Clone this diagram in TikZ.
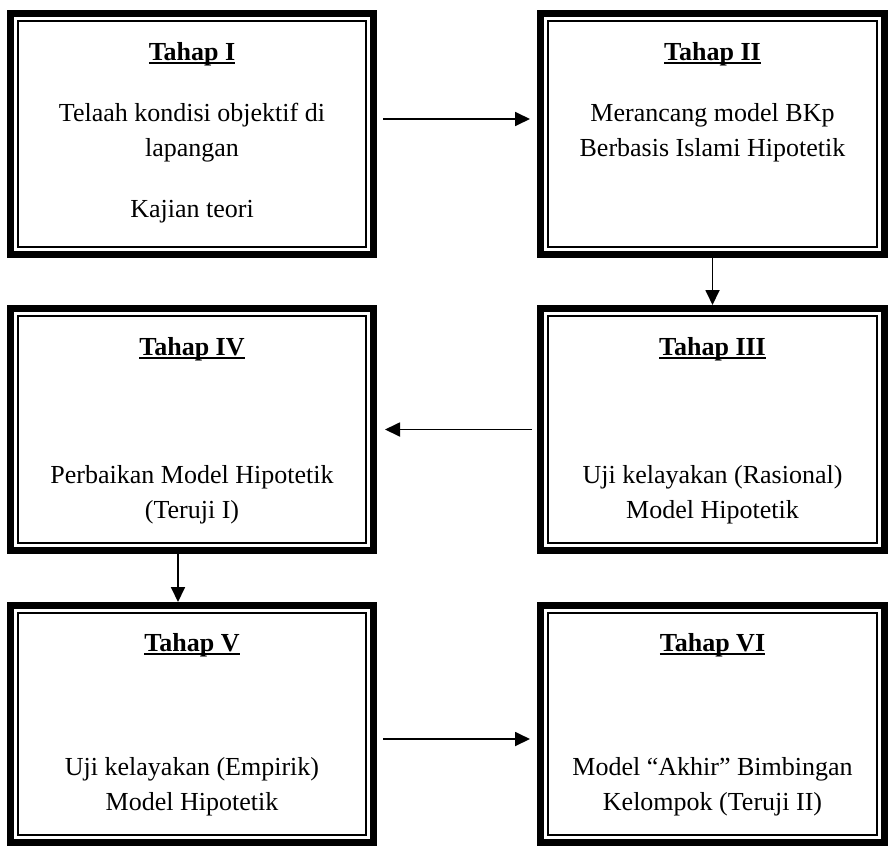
\documentclass[tikz,border=0pt]{standalone}
\usepackage{fontspec}
\setmainfont{Liberation Serif}
\usetikzlibrary{arrows.meta}
\newcommand{\garis}[1]{\setbox0\hbox{#1}\rlap{\rule[-4pt]{\wd0}{2pt}}\box0}

\begin{document}
\begin{tikzpicture}[x=1pt, y=-1pt,
        tahap/.style = {rectangle, draw=black, line width=7pt, inner sep=0pt,
            path picture={\draw[line width=1.5pt] ([shift={(7.5pt,-7.5pt)}]path picture bounding box.north west) rectangle ([shift={(-7.5pt,7.5pt)}]path picture bounding box.south east);}},
        kiri/.style  = {tahap, minimum width=363pt},
        kanan/.style = {tahap, minimum width=344pt},
        judul/.style = {anchor=base, inner sep=0pt, font=\fontsize{26}{35}\selectfont\bfseries},
        isi/.style   = {anchor=base, inner sep=0pt, align=center, font=\fontsize{26}{35}\selectfont},
        panah/.style = {-{Triangle[length=15pt,width=14pt]}, line width=1.8pt}
    ]
        \useasboundingbox (0,0) rectangle (888,846);

        % Boxes
        \node[kiri,  minimum height=241pt] (b1) at (192,134) {};
        \node[kanan, minimum height=241pt] (b2) at (712.5,134) {};
        \node[kanan, minimum height=242pt] (b3) at (712.5,429.5) {};
        \node[kiri,  minimum height=242pt] (b4) at (192,429.5) {};
        \node[kiri,  minimum height=237pt] (b5) at (192,724) {};
        \node[kanan, minimum height=237pt] (b6) at (712.5,724) {};

        % Titles
        \node[judul] (j1) at (192,60) {\garis{Tahap I}};
        \node[judul] (j2) at (712.5,60) {\garis{Tahap II}};
        \node[judul] (j3) at (712.5,355) {\garis{Tahap III}};
        \node[judul] (j4) at (192,355) {\garis{Tahap IV}};
        \node[judul] (j5) at (192,651) {\garis{Tahap V}};
        \node[judul] (j6) at (712.5,651) {\garis{Tahap VI}};

        % Contents (base = last line)
        \node[isi] (i1) at (192,156) {Telaah kondisi objektif di\\lapangan};
        \node[isi] (i1b) at (192,217) {Kajian teori};
        \node[isi] (i2) at (712.5,156) {Merancang model BKp\\Berbasis Islami Hipotetik};
        \node[isi] (i3) at (712.5,518) {Uji kelayakan (Rasional)\\Model Hipotetik};
        \node[isi] (i4) at (192,518) {Perbaikan Model Hipotetik\\(Teruji I)};
        \node[isi] (i5) at (192,810) {Uji kelayakan (Empirik)\\Model Hipotetik};
        \node[isi] (i6) at (712.5,810) {Model ``Akhir'' Bimbingan\\Kelompok (Teruji II)};

        % Arrows
        \draw[panah, shorten <=6pt, shorten >=7pt] ([yshift=15pt]b1.east) -- ([yshift=15pt]b2.west);
        \draw[panah] (b2.south) -- (b3.north);
        \draw[panah, shorten <=5pt, shorten >=8pt] (b3.west) -- (b4.east);
        \draw[panah] ([xshift=-14pt]b4.south) -- ([xshift=-14pt]b5.north);
        \draw[panah, shorten <=6pt, shorten >=7pt] ([yshift=-15pt]b5.east) -- ([yshift=-15pt]b6.west);

    \end{tikzpicture}
\end{document}
